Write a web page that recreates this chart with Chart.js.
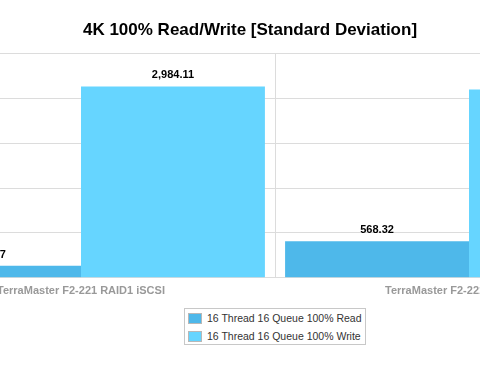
<!DOCTYPE html>
<html>
<head>
<meta charset="utf-8">
<script src="https://cdn.jsdelivr.net/npm/chart.js@4/dist/chart.umd.min.js"></script>
<style>
  html, body { margin:0; padding:0; background:#fff; overflow:hidden; width:480px; height:378px; }
  #wrap { position:absolute; left:-163px; top:0; width:826px; height:305px; }
  #legend {
    position:absolute; left:184px; top:308px; width:182px; height:37px;
    border:1px solid #c8c8c8; box-sizing:border-box; padding:0 0 0 3px;
    font-family:"Liberation Sans", Arial, Helvetica, sans-serif; font-size:10.5px; color:#333;
    white-space:nowrap;
  }
  #legend .row { height:18px; display:flex; align-items:center; }
  #legend .sw { width:14px; height:11px; border:1px solid #b8b8b8; box-sizing:border-box; margin-right:5px; flex:none; }
</style>
</head>
<body>
<div id="wrap"><canvas id="chart"></canvas></div>
<div id="legend"></div>
<script>
const chartTitle = '4K 100% Read/Write [Standard Deviation]';
const categories = ['TerraMaster F2-221 RAID1 iSCSI', 'TerraMaster F2-221 RAID0 iSCSI'];
const seriesNames = ['16 Thread 16 Queue 100% Read', '16 Thread 16 Queue 100% Write'];
const readValues = [187.27, 568.32];
const writeValues = [2984.11, 2937.46];
const yMax = 3500;
const yStep = 700;
const colors = ['#4eb8ea', '#66d5ff'];

const FONT = '"Liberation Sans", Arial, Helvetica, sans-serif';

const valueLabels = {
  id: 'valueLabels',
  afterDatasetsDraw(chart){
    const ctx = chart.ctx;
    ctx.save();
    ctx.font = 'bold 11px ' + FONT;
    ctx.fillStyle = '#000';
    ctx.textAlign = 'center';
    ctx.textBaseline = 'alphabetic';
    chart.data.datasets.forEach((ds, i)=>{
      chart.getDatasetMeta(i).data.forEach((bar, j)=>{
        const txt = ds.data[j].toLocaleString('en-US', {minimumFractionDigits:2, maximumFractionDigits:2});
        ctx.fillText(txt, bar.x, bar.y - 8);
      });
    });
    ctx.restore();
  }
};

const chart = new Chart(document.getElementById('chart'), {
  type: 'bar',
  data: {
    labels: categories,
    datasets: [
      { label: seriesNames[0], data: readValues, backgroundColor: colors[0] },
      { label: seriesNames[1], data: writeValues, backgroundColor: colors[1] }
    ]
  },
  options: {
    responsive: true,
    maintainAspectRatio: false,
    animation: false,
    layout: { padding: { left: 0, right: 0, top: 12, bottom: 0 } },
    datasets: { bar: { barPercentage: 1, categoryPercentage: 0.948 } },
    plugins: {
      legend: { display: false },
      tooltip: { enabled: false },
      title: {
        display: true, text: chartTitle, color: '#000',
        font: { family: FONT, size: 17, weight: 'bold' },
        padding: { top: 8, bottom: 13 }
      }
    },
    scales: {
      x: {
        grid: { color: '#dcdcdc', drawTicks: false, tickLength: 0 },
        border: { color: '#dcdcdc' },
        ticks: { color: '#999', padding: 7, maxRotation: 0, autoSkip: false,
                 font: { family: FONT, size: 11, weight: 'bold' } }
      },
      y: {
        min: 0, max: yMax,
        grid: { color: '#dcdcdc', drawTicks: false, tickLength: 0 },
        border: { display: false },
        ticks: { display: false, stepSize: yStep },
        afterFit(scale){ scale.width = 50; }
      }
    }
  },
  plugins: [valueLabels]
});

// legend box built from the chart's datasets
const lg = document.getElementById('legend');
chart.data.datasets.forEach(ds=>{
  const row = document.createElement('div');
  row.className = 'row';
  row.innerHTML = `<span class="sw" style="background:${ds.backgroundColor}"></span><span>${ds.label}</span>`;
  lg.appendChild(row);
});
</script>
</body>
</html>
